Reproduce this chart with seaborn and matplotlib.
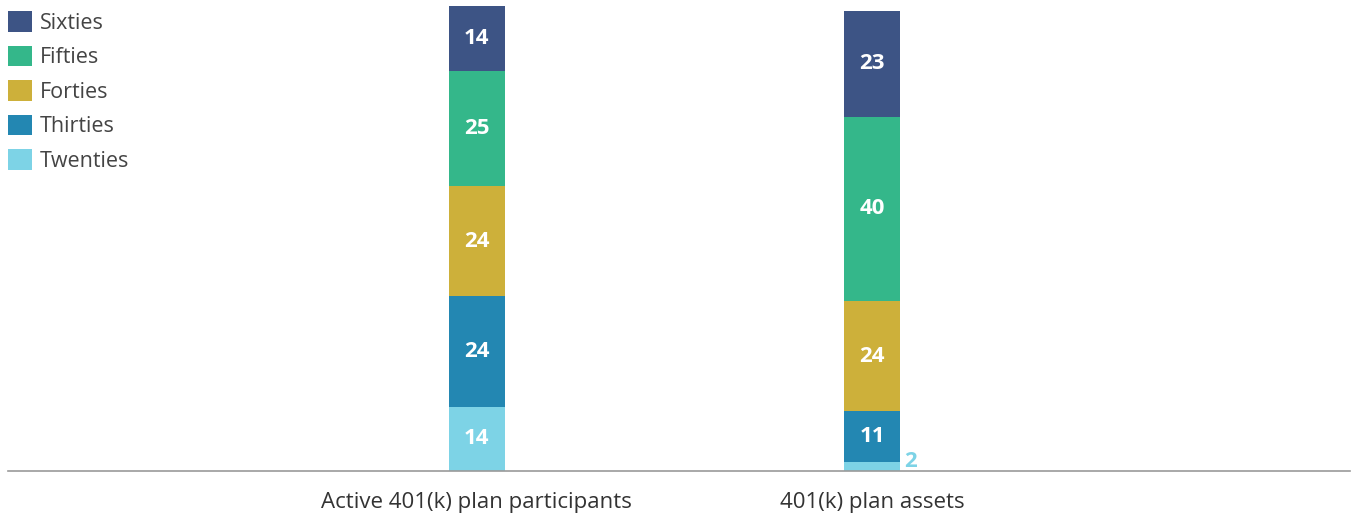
import numpy as np
import pandas as pd
import matplotlib
matplotlib.use("Agg")
import matplotlib.pyplot as plt
import seaborn as sns

# === Data ===
groups = ["Active 401(k) plan participants", "401(k) plan assets"]
ages = ["Twenties", "Thirties", "Forties", "Fifties", "Sixties"]
participants = [14, 24, 24, 25, 14]
assets = [2, 11, 24, 40, 23]
colors = ["#7dd3e6", "#2387b2", "#cdb03a", "#34b78a", "#3d5485"]

sns.set_theme(style="white")
plt.rcParams["font.family"] = ["Open Sans", "DejaVu Sans"]

df = pd.DataFrame({"group": groups})
for i, a in enumerate(ages):
    df[a] = [participants[i], assets[i]]
cum = df[ages].cumsum(axis=1)

fig = plt.figure(figsize=(13.53, 5.16), dpi=100)
ax = fig.add_axes([8 / 1353, 45 / 516, 1342 / 1353, 471 / 516])

# stacked bars: draw cumulative totals from the top segment down
for a, c in reversed(list(zip(ages, colors))):
    sns.barplot(x=df["group"], y=cum[a], color=c, width=0.142,
                saturation=1, ax=ax, label=a, linewidth=0)

# value labels
for gi in range(len(groups)):
    bottom = 0
    for a, c in zip(ages, colors):
        v = df.loc[gi, a]
        mid = bottom + v / 2
        if v >= 5:
            ax.text(gi, mid, str(v), ha="center", va="center", color="white",
                    fontsize=16, fontweight="bold")
        else:
            ax.text(gi + 0.082, mid + 1.0, str(v), ha="left", va="center", color=c,
                    fontsize=16, fontweight="bold")
        bottom += v

ax.set_xlim(-1.187, 2.21)
ax.set_ylim(0, 102.4)
ax.set_xlabel("")
ax.set_ylabel("")
ax.set_yticks([])
for s in ["top", "right", "left"]:
    ax.spines[s].set_visible(False)
ax.spines["bottom"].set_color("#9a9a9a")
ax.spines["bottom"].set_linewidth(1.2)
ax.tick_params(axis="x", length=0, pad=15, labelsize=16, labelcolor="#333333")

# legend: Sixties on top
handles, labels = ax.get_legend_handles_labels()
ax.legend(handles, labels, loc="upper left", bbox_to_anchor=(4 / 1353, 1 - 7 / 516),
          bbox_transform=fig.transFigure, frameon=False, fontsize=15.5,
          handlelength=1.1, handleheight=1.1, handletextpad=0.36,
          labelspacing=0.55, borderaxespad=0, borderpad=0.2,
          labelcolor="#444444")

plt.savefig("out.png", dpi=100)
plt.close()
